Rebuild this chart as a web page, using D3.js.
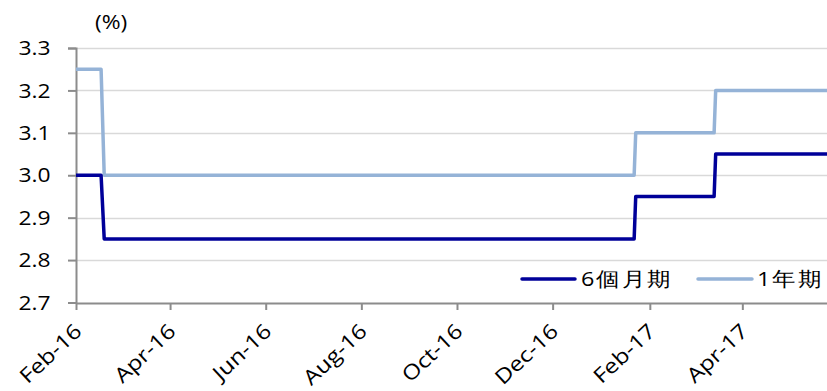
<!DOCTYPE html>
<html>
<head>
<meta charset="utf-8">
<script src="https://cdn.jsdelivr.net/npm/d3@7"></script>
<style>
  html, body { margin: 0; padding: 0; background: #fff; }
  svg { display: block; }
  text { font-family: "Open Sans", "Noto Sans", sans-serif; fill: #000; }
</style>
</head>
<body>
<svg id="chart" width="827" height="391"></svg>
<script>
// Rate change points for the two maturities (percent)
const dates6m = ["2016-02-01", "2016-02-17", "2016-02-19", "2017-01-22", "2017-01-23", "2017-03-14", "2017-03-15", "2017-05-25"];
const values6m = [3.00, 3.00, 2.85, 2.85, 2.95, 2.95, 3.05, 3.05];
const dates1y = ["2016-02-01", "2016-02-17", "2016-02-19", "2017-01-22", "2017-01-23", "2017-03-14", "2017-03-15", "2017-05-25"];
const values1y = [3.25, 3.25, 3.00, 3.00, 3.10, 3.10, 3.20, 3.20];
const seriesNames = ["6個月期", "1年期"];
const seriesColors = ["#000099", "#95B3D7"];
const yTicks = [2.7, 2.8, 2.9, 3.0, 3.1, 3.2, 3.3];
const xTickDates = ["2016-02-01", "2016-04-01", "2016-06-01", "2016-08-01", "2016-10-01", "2016-12-01", "2017-02-01", "2017-04-01"];
const xTickLabels = ["Feb-16", "Apr-16", "Jun-16", "Aug-16", "Oct-16", "Dec-16", "Feb-17", "Apr-17"];
const unitLabel = "(%)";

const parse = d3.utcParse("%Y-%m-%d");
const svg = d3.select("#chart");
const margin = { left: 76, right: 0, top: 48, bottom: 89 };
const W = 827, H = 391;
const stretch = 1.17; // text is drawn slightly wide

const x = d3.scaleUtc()
  .domain([parse("2016-02-01"), parse("2017-05-25")])
  .range([margin.left, W - margin.right]);
const y = d3.scaleLinear()
  .domain([2.7, 3.3])
  .range([H - margin.bottom + 0.5, margin.top]);

// Horizontal gridlines
svg.append("g")
  .selectAll("line")
  .data(yTicks.filter(v => v > 2.7))
  .join("line")
  .attr("x1", margin.left).attr("x2", W)
  .attr("y1", d => Math.round(y(d)) + 0.5).attr("y2", d => Math.round(y(d)) + 0.5)
  .attr("stroke", "#d9d9d9").attr("stroke-width", 1.5);

// Y axis
const yAxis = svg.append("g")
  .attr("transform", `translate(${margin.left},0)`)
  .call(d3.axisLeft(y).tickValues(yTicks).tickFormat(d3.format(".1f")).tickSize(8));
yAxis.select(".domain").attr("stroke", "#8c8c8c").attr("stroke-width", 2);
yAxis.selectAll(".tick line").attr("stroke", "#8c8c8c").attr("stroke-width", 2);
yAxis.selectAll(".tick text")
  .attr("font-size", 19.5).attr("fill", "#000")
  .attr("x", 0)
  .attr("transform", `translate(-25.5,0.5) scale(${stretch},1)`);

// X axis
const xAxis = svg.append("g")
  .attr("transform", `translate(0,${Math.round(y(2.7))})`)
  .call(d3.axisBottom(x).tickValues(xTickDates.map(parse))
    .tickFormat((d, i) => xTickLabels[i]).tickSize(7).tickSizeOuter(0));
xAxis.select(".domain").attr("stroke", "#8c8c8c").attr("stroke-width", 2);
xAxis.selectAll(".tick line").attr("stroke", "#8c8c8c").attr("stroke-width", 2);
xAxis.selectAll(".tick text")
  .attr("font-size", 20.5).attr("fill", "#000")
  .attr("text-anchor", "end")
  .attr("dy", 0).attr("y", 0).attr("x", 0)
  .attr("transform", `translate(6.5,30) rotate(-43) scale(${stretch},1)`);

// Unit label
svg.append("text")
  .attr("transform", `translate(95,29) scale(${stretch},1)`)
  .attr("font-size", 19.5)
  .text(unitLabel);

// Series lines
const line = d3.line().x(d => x(d[0])).y(d => y(d[1]));
const series = [
  dates6m.map((d, i) => [parse(d), values6m[i]]),
  dates1y.map((d, i) => [parse(d), values1y[i]])
];
// draw the light series first so the dark one sits on top
[1, 0].forEach(k => {
  svg.append("path")
    .datum(series[k])
    .attr("fill", "none")
    .attr("stroke", seriesColors[k])
    .attr("stroke-width", 3.5)
    .attr("stroke-linejoin", "round")
    .attr("d", line);
});

// Legend
const legend = svg.append("g").attr("transform", "translate(0,279)");
const legendItems = [
  { x1: 522, x2: 575, tx: 581 },
  { x1: 698, x2: 752, tx: 757 }
];
legendItems.forEach((it, i) => {
  legend.append("line")
    .attr("x1", it.x1).attr("x2", it.x2)
    .attr("stroke", seriesColors[i]).attr("stroke-width", 3.5).attr("stroke-linecap", "round");
  legend.append("text")
    .attr("transform", `translate(${it.tx},7) scale(${stretch},1)`)
    .attr("font-size", 20)
    .attr("letter-spacing", 1.5)
    .attr("font-family", "Noto Sans CJK TC, sans-serif")
    .text(seriesNames[i]);
});
</script>
</body>
</html>
